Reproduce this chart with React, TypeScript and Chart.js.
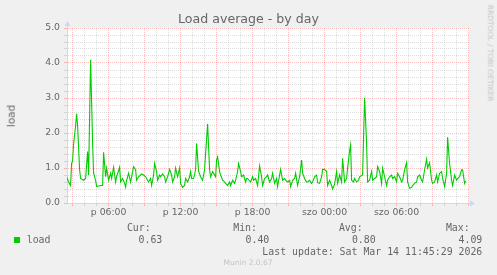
import React, { useEffect, useRef } from "react";
import { Chart, registerables } from "chart.js";

Chart.register(...registerables);

// minutes since Friday 00:00
const minutes = [
  150, 160, 170, 175, 180, 185, 195, 200, 205, 215, 220, 235, 245, 250, 255, 260, 270, 280, 285, 295,
  300, 320, 330, 335, 345, 350, 360, 370, 375, 385, 395, 400, 415, 420, 430, 440, 445, 450, 460, 470,
  475, 485, 495, 500, 510, 520, 525, 535, 545, 550, 560, 570, 575, 585, 590, 600, 605, 615, 620, 630,
  640, 645, 655, 665, 675, 680, 690, 695, 705, 715, 720, 730, 740, 745, 755, 765, 770, 775, 785, 795,
  800, 810, 820, 830, 840, 845, 855, 865, 870, 880, 895, 900, 905, 915, 920, 930, 940, 945, 955, 965,
  970, 980, 990, 995, 1005, 1010, 1020, 1025, 1035, 1045, 1050, 1055, 1070, 1080, 1085, 1095, 1105, 1115, 1125, 1130,
  1140, 1150, 1155, 1165, 1175, 1180, 1190, 1200, 1205, 1215, 1220, 1230, 1240, 1245, 1255, 1265, 1270, 1280, 1290, 1295,
  1305, 1315, 1325, 1330, 1340, 1350, 1355, 1365, 1375, 1380, 1390, 1400, 1405, 1415, 1425, 1430, 1440, 1450, 1455, 1465,
  1475, 1480, 1490, 1500, 1505, 1515, 1525, 1530, 1540, 1550, 1555, 1565, 1570, 1575, 1585, 1590, 1600, 1610, 1615, 1630,
  1640, 1650, 1655, 1665, 1675, 1680, 1690, 1700, 1705, 1715, 1725, 1730, 1740, 1750, 1755, 1765, 1775, 1780, 1790, 1800,
  1805, 1815, 1825, 1830, 1840, 1850, 1855, 1865, 1875, 1880, 1890, 1900, 1905, 1915, 1925, 1930, 1940, 1950, 1955, 1965,
  1975, 1980, 1990, 2000, 2005, 2015, 2025, 2030, 2040, 2050, 2055, 2065, 2075, 2080, 2090, 2100, 2105, 2115, 2125, 2130,
  2140, 2145,
];

const load = [
  0.75, 0.6, 0.5, 1.13, 1.2, 1.7, 2.2, 2.55, 2.2, 0.95, 0.7, 0.65, 0.7, 1.1, 1.47, 0.8, 4.09, 1.7, 0.85, 0.65,
  0.47, 0.5, 0.5, 1.45, 0.75, 1.0, 0.65, 0.85, 0.7, 1.02, 0.6, 0.75, 1.02, 0.6, 0.7, 0.56, 0.45, 0.65, 0.85, 0.6,
  0.75, 1.04, 0.95, 0.65, 0.75, 0.8, 0.83, 0.8, 0.75, 0.7, 0.6, 0.7, 0.5, 0.8, 1.13, 0.9, 0.65, 0.8, 0.75, 0.83,
  0.75, 0.6, 0.75, 0.96, 0.8, 0.6, 0.75, 1.0, 0.75, 1.0, 0.56, 0.45, 0.5, 0.7, 0.6, 0.75, 0.9, 0.7, 0.7, 0.95,
  1.7, 0.9, 0.75, 0.65, 0.95, 1.42, 2.26, 0.95, 0.75, 0.9, 0.75, 1.23, 1.32, 0.9, 0.8, 0.65, 0.6, 0.56, 0.5, 0.6,
  0.5, 0.65, 0.56, 0.65, 0.9, 1.13, 0.9, 0.75, 0.8, 0.6, 0.7, 0.7, 0.6, 0.75, 0.65, 0.7, 0.5, 1.06, 0.75, 0.5,
  0.7, 0.75, 0.8, 0.6, 0.7, 0.85, 0.56, 0.7, 0.47, 0.8, 0.96, 0.65, 0.7, 0.65, 0.6, 0.65, 0.47, 0.65, 0.7, 0.85,
  0.5, 0.75, 1.23, 0.85, 0.7, 0.6, 0.6, 0.65, 0.56, 0.6, 0.75, 0.8, 0.58, 0.56, 0.75, 0.96, 0.96, 0.9, 0.5, 0.65,
  0.5, 0.4, 0.54, 0.9, 0.56, 0.8, 0.6, 1.28, 0.6, 0.7, 1.0, 1.5, 1.66, 0.65, 0.6, 0.7, 0.6, 0.65, 0.75, 0.8,
  3.0, 1.7, 0.6, 0.65, 0.9, 0.65, 0.7, 0.75, 1.04, 0.9, 0.56, 1.0, 0.75, 0.5, 0.65, 0.75, 0.8, 0.7, 0.75, 0.6,
  0.85, 0.75, 0.6, 0.65, 0.95, 1.15, 0.6, 0.42, 0.45, 0.5, 0.56, 0.6, 0.75, 0.8, 0.65, 0.6, 0.95, 1.25, 1.0, 1.15,
  0.65, 0.56, 0.6, 0.8, 0.6, 0.85, 0.9, 0.7, 0.47, 0.85, 1.88, 1.13, 0.65, 0.5, 0.8, 0.65, 0.7, 0.75, 0.95, 0.95,
  0.56, 0.63,
];

const xLabelMinutes = [360, 720, 1080, 1440, 1800];
const xLabels = ["p 06:00", "p 12:00", "p 18:00", "szo 00:00", "szo 06:00"];
const legendHeaders = ["Cur:", "Min:", "Avg:", "Max:"];
const legendValues = ["0.63", "0.40", "0.80", "4.09"];
const seriesName = "load";
const titleText = "Load average - by day";
const yTitle = "load";
const lastUpdate = "Last update: Sat Mar 14 11:45:29 2026";
const versionText = "Munin 2.0.67";
const watermark = "RRDTOOL / TOBI OETIKER";

const X_MIN = 152;
const X_MAX = 2162;
const Y_MAX = 5;

const MAJOR = "rgba(255,0,0,0.24)";
const MINOR = "rgba(128,128,128,0.26)";
const AXIS = "#CFD6F8";
const FONT_COLOR = "#666666";
const GREEN = "#00cc00";

const isMajorX = (v: number) => v % 180 === 0;
const isMajorY = (v: number) => Math.abs(v - Math.round(v)) < 1e-6;

const bgPlugin = {
  id: "canvasBg",
  beforeDraw(chart: any) {
    const { ctx, chartArea } = chart;
    ctx.save();
    ctx.fillStyle = "#ffffff";
    ctx.fillRect(chartArea.left, chartArea.top, chartArea.right - chartArea.left, chartArea.bottom - chartArea.top);
    ctx.restore();
  },
};

const arrowPlugin = {
  id: "axisArrows",
  afterDraw(chart: any) {
    const { ctx, chartArea } = chart;
    const x0 = chartArea.left + 0.5;
    const y0 = chartArea.bottom + 0.5;
    ctx.save();
    ctx.fillStyle = AXIS;
    ctx.strokeStyle = AXIS;
    ctx.lineWidth = 1;
    ctx.beginPath();
    ctx.moveTo(x0, chartArea.top);
    ctx.lineTo(x0, chartArea.top - 2);
    ctx.stroke();
    ctx.beginPath();
    ctx.moveTo(x0 - 3, chartArea.top - 2);
    ctx.lineTo(x0 + 3, chartArea.top - 2);
    ctx.lineTo(x0, chartArea.top - 7);
    ctx.closePath();
    ctx.fill();
    ctx.beginPath();
    ctx.moveTo(chartArea.right, y0);
    ctx.lineTo(chartArea.right + 1, y0);
    ctx.stroke();
    ctx.beginPath();
    ctx.moveTo(chartArea.right + 1, y0 - 3);
    ctx.lineTo(chartArea.right + 1, y0 + 3);
    ctx.lineTo(chartArea.right + 6, y0);
    ctx.closePath();
    ctx.fill();
    ctx.restore();
  },
};

export default function App() {
  const ref = useRef<HTMLCanvasElement | null>(null);

  useEffect(() => {
    if (!ref.current) return;
    const tickFont = { family: "'DejaVu Sans'", size: 9.3 };
    const chart = new Chart(ref.current, {
      type: "line",
      data: {
        datasets: [
          {
            label: seriesName,
            data: minutes.map((m, i) => ({ x: m, y: load[i] })),
            borderColor: GREEN,
            borderWidth: 1.1,
            pointRadius: 0,
            tension: 0,
            fill: false,
          },
        ],
      },
      options: {
        animation: false,
        responsive: false,
        devicePixelRatio: 1,
        layout: { padding: { top: 28, right: 28, bottom: 0, left: 0 } },
        plugins: {
          legend: { display: false },
          tooltip: { enabled: false },
          title: { display: false },
        },
        scales: {
          x: {
            type: "linear",
            min: X_MIN,
            max: X_MAX,
            afterBuildTicks: (s: any) => {
              const t: any[] = [];
              for (let m = 180; m <= 2160; m += 60) t.push({ value: m });
              s.ticks = t;
            },
            afterFit: (s: any) => {
              s.height = 72;
            },
            ticks: {
              autoSkip: false,
              maxRotation: 0,
              padding: 1,
              color: FONT_COLOR,
              font: tickFont,
              callback: (v: any) => {
                const idx = xLabelMinutes.indexOf(Number(v));
                return idx >= 0 ? xLabels[idx] : "";
              },
            },
            grid: {
              color: (c: any) => (c.tick && isMajorX(c.tick.value) ? MAJOR : MINOR),
              tickColor: (c: any) => (c.tick && isMajorX(c.tick.value) ? MAJOR : MINOR),
              tickLength: 3,
              lineWidth: 1,
            },
            border: { color: AXIS, width: 1, dash: [1, 1] },
          },
          y: {
            min: 0,
            max: Y_MAX,
            afterBuildTicks: (s: any) => {
              const t: any[] = [];
              for (let i = 0; i <= 25; i++) t.push({ value: i / 5 });
              s.ticks = t;
            },
            afterFit: (s: any) => {
              s.width = 67;
            },
            ticks: {
              autoSkip: false,
              padding: 4,
              color: FONT_COLOR,
              font: tickFont,
              callback: (v: any) => (isMajorY(Number(v)) ? Number(v).toFixed(1) : ""),
            },
            grid: {
              color: (c: any) => (c.tick && isMajorY(c.tick.value) ? MAJOR : MINOR),
              tickColor: (c: any) => (c.tick && isMajorY(c.tick.value) ? MAJOR : MINOR),
              tickLength: 3,
              lineWidth: 1,
            },
            border: { color: AXIS, width: 1, dash: [1, 1] },
          },
        },
      } as any,
      plugins: [bgPlugin, arrowPlugin],
    });
    return () => chart.destroy();
  }, []);

  const mono = "'DejaVu Sans Mono', monospace";
  const sans = "'DejaVu Sans', sans-serif";
  const headerEnds = [150.7, 257, 362.7, 469.7];
  const valueEnds = [162.3, 269.3, 375.7, 482.3];

  const abs = (extra: React.CSSProperties): React.CSSProperties => ({
    position: "absolute",
    whiteSpace: "nowrap",
    margin: 0,
    ...extra,
  });

  return (
    <div
      style={{
        position: "absolute",
        left: 0,
        top: 0,
        width: 497,
        height: 275,
        background: "#f0f0f0",
        overflow: "hidden",
      }}
    >
      <canvas ref={ref} width={497} height={275} style={{ display: "block", width: 497, height: 275 }} />
      <div
        style={abs({
          left: 0,
          width: 497,
          top: 13.1,
          textAlign: "center",
          font: `12.6px/12.6px ${sans}`,
          color: FONT_COLOR,
        })}
      >
        {titleText}
      </div>
      <div
        style={abs({
          left: 10.8,
          top: 115.5,
          transform: "translate(-50%, -50%) rotate(-90deg)",
          font: `10.5px/10.5px ${sans}`,
          color: FONT_COLOR,
        })}
      >
        {yTitle}
      </div>
      <div
        style={abs({
          left: 489.7,
          top: 53.3,
          transform: "translate(-50%, -50%) rotate(90deg)",
          font: `7.5px/7.5px ${sans}`,
          color: "#c4c4c4",
        })}
      >
        {watermark}
      </div>
      {legendHeaders.map((h, i) => (
        <div
          key={"h" + i}
          style={abs({ right: 497 - headerEnds[i], top: 223.2, font: `9.9px/9.9px ${mono}`, color: FONT_COLOR })}
        >
          {h}
        </div>
      ))}
      <div style={abs({ left: 14, top: 237, width: 6, height: 6, background: GREEN })} />
      <div style={abs({ left: 26.7, top: 234.5, font: `9.9px/9.9px ${mono}`, color: FONT_COLOR })}>{seriesName}</div>
      {legendValues.map((v, i) => (
        <div
          key={"v" + i}
          style={abs({ right: 497 - valueEnds[i], top: 234.5, font: `9.9px/9.9px ${mono}`, color: FONT_COLOR })}
        >
          {v}
        </div>
      ))}
      <div style={abs({ right: 497 - 482.3, top: 246.9, font: `9.9px/9.9px ${mono}`, color: FONT_COLOR })}>
        {lastUpdate}
      </div>
      <div
        style={abs({
          left: 248,
          top: 263.3,
          transform: "translate(-50%, -50%)",
          font: `7.5px/7.5px ${sans}`,
          color: "#c4c4c4",
        })}
      >
        {versionText}
      </div>
    </div>
  );
}
